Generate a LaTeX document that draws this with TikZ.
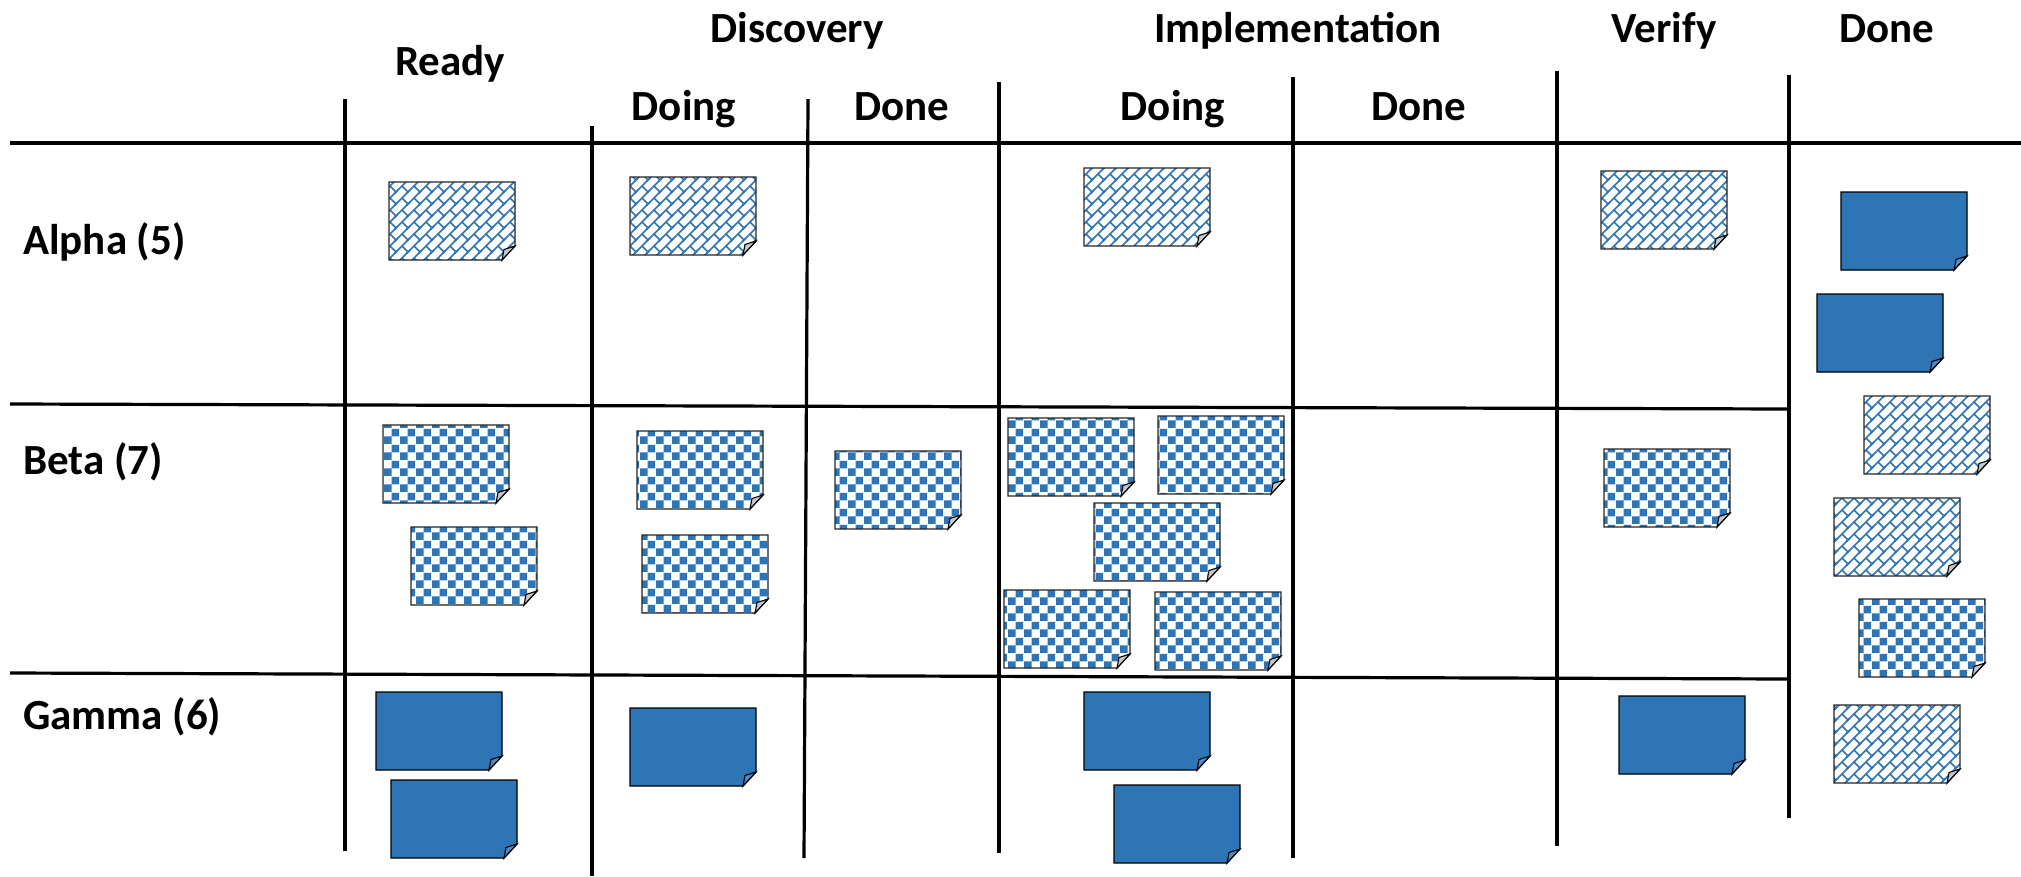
\documentclass[tikz,border=0pt]{standalone}
\usepackage{fontspec}
\setmainfont{Carlito}
\usetikzlibrary{patterns}
\definecolor{noteblue}{HTML}{2E75B6}
\definecolor{flapgray}{HTML}{C4C8CC}

\pgfdeclarepatternformonly{dbrick}{\pgfpoint{-2pt}{-2pt}}{\pgfpoint{14pt}{14pt}}{\pgfpoint{12pt}{12pt}}{%
  \pgfsetlinewidth{1.5pt}%
  \pgfpathmoveto{\pgfpoint{-2pt}{-2pt}}\pgfpathlineto{\pgfpoint{14pt}{14pt}}%
  \pgfpathmoveto{\pgfpoint{6pt}{6pt}}\pgfpathlineto{\pgfpoint{12pt}{0pt}}%
  \pgfusepath{stroke}}
\pgfdeclarepatternformonly{chk}{\pgfpointorigin}{\pgfpoint{16pt}{16pt}}{\pgfpoint{16pt}{16pt}}{%
  \pgfpathrectangle{\pgfpointorigin}{\pgfpoint{8pt}{8pt}}%
  \pgfpathrectangle{\pgfpoint{8pt}{8pt}}{\pgfpoint{8pt}{8pt}}%
  \pgfusepath{fill}}

\tikzset{
  gridline/.style={line width=3.2pt, black},
  hdr/.style={anchor=base, inner sep=0pt, font=\fontsize{43}{50}\selectfont\bfseries},
  rowlbl/.style={anchor=base west, inner sep=0pt, font=\fontsize{43}{50}\selectfont\bfseries},
  notebox/.style={inner sep=0pt, minimum width=126pt, minimum height=78pt},
  solidnote/.style={fill=noteblue, draw=black, line width=1.3pt},
  bricknote/.style={preaction={fill=white}, pattern=dbrick, pattern color=noteblue, draw=black!85, line width=1.3pt},
  checknote/.style={preaction={fill=white}, pattern=chk, pattern color=noteblue, draw=black!85, line width=1.3pt},
  solidflap/.style={fill=noteblue!85!white, draw=black, line width=1.1pt},
  brickflap/.style={fill=flapgray, draw=black, line width=1.1pt},
  checkflap/.style={fill=flapgray, draw=black, line width=1.1pt},
}

\newcommand\stickynote[4]{%
  \begin{scope}[shift={(#2,#3)}]
    \node[notebox] (#1) at (63,39) {};
    \path[#4note] (0,0) -- (126,0) -- (126,64) -- (113,78) -- (0,78) -- cycle;
    \path[#4flap] (113,78) .. controls (113.5,72) .. (115,67.5) .. controls (120,66) .. (126,64) -- cycle;
  \end{scope}}

\begin{document}
\begin{tikzpicture}[x=1pt,y=-1pt]
\useasboundingbox[fill=white] (0,0) rectangle (2021,876);

% grid lines
\draw[gridline] (10,143) -- (2021,143);
\draw[gridline] (10,404) -- (1789,409);
\draw[gridline] (10,673) -- (1789,679);
\draw[gridline] (345,99) -- (345,851);
\draw[gridline] (592,126) -- (592,876);
\draw[gridline] (808,99) -- (804,858);
\draw[gridline] (999,82) -- (999,853);
\draw[gridline] (1293,77) -- (1293,858);
\draw[gridline] (1557,71) -- (1557,846);
\draw[gridline] (1789,75) -- (1789,818);

% headers
\node[hdr] (hready) at (450,75) {Ready};
\node[hdr] (hdisc) at (797,42) {Discovery};
\node[hdr] (hdiscdoing) at (684,120) {Doing};
\node[hdr] (hdiscdone) at (902,120) {Done};
\node[hdr] (himpl) at (1298,42) {Implementation};
\node[hdr] (himpldoing) at (1173,120) {Doing};
\node[hdr] (himpldone) at (1419,120) {Done};
\node[hdr] (hverify) at (1664,42) {Verify};
\node[hdr] (hdone) at (1887,42) {Done};

% row labels
\node[rowlbl] (ralpha) at (23,254) {Alpha (5)};
\node[rowlbl] (rbeta) at (23,474) {Beta (7)};
\node[rowlbl] (rgamma) at (23,729) {Gamma (6)};

% Alpha row
\stickynote{a1}{389}{182}{brick}
\stickynote{a2}{630}{177}{brick}
\stickynote{a3}{1084}{168}{brick}
\stickynote{a4}{1601}{171}{brick}
% Done column
\stickynote{d1}{1841}{192}{solid}
\stickynote{d2}{1817}{294}{solid}
\stickynote{d3}{1864}{396}{brick}
\stickynote{d4}{1834}{498}{brick}
\stickynote{d5}{1859}{599}{check}
\stickynote{d6}{1834}{705}{brick}

% Beta row
\stickynote{b1}{383}{425}{check}
\stickynote{b2}{411}{527}{check}
\stickynote{b3}{637}{431}{check}
\stickynote{b4}{642}{535}{check}
\stickynote{b5}{835}{451}{check}
\stickynote{b6}{1008}{418}{check}
\stickynote{b7}{1158}{416}{check}
\stickynote{b8}{1094}{503}{check}
\stickynote{b9}{1004}{590}{check}
\stickynote{b10}{1155}{592}{check}
\stickynote{b11}{1604}{449}{check}

% Gamma row
\stickynote{g1}{376}{692}{solid}
\stickynote{g2}{391}{780}{solid}
\stickynote{g3}{630}{708}{solid}
\stickynote{g4}{1084}{692}{solid}
\stickynote{g5}{1114}{785}{solid}
\stickynote{g6}{1619}{696}{solid}
\end{tikzpicture}
\end{document}
